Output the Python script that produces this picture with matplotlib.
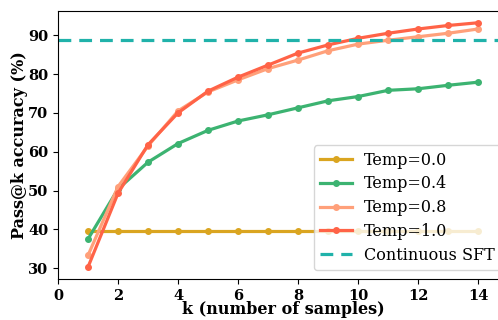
import matplotlib
matplotlib.use("Agg")
from matplotlib import pyplot as plt

plt.rcParams['font.family'] = 'DejaVu Serif'

# значення
k = list(range(1, 15))
temp_00 = [39.7] * 14
temp_04 = [37.5, 50.4, 57.3, 62.1, 65.5, 67.9, 69.5, 71.3, 73.1, 74.2, 75.8, 76.2, 77.1, 77.9]
temp_08 = [33.3, 51.0, 61.5, 70.5, 75.4, 78.5, 81.4, 83.6, 86.0, 87.7, 88.7, 89.6, 90.5, 91.6]
temp_10 = [30.3, 49.3, 61.8, 70.0, 75.6, 79.2, 82.3, 85.4, 87.5, 89.2, 90.5, 91.6, 92.5, 93.2]
sft_level = 88.7

labels = ['Temp=0.0', 'Temp=0.4', 'Temp=0.8', 'Temp=1.0']
colors = ['#DAA520', '#3CB371', '#FFA07A', '#FF6347']
xticks = list(range(0, 15, 2))
yticks = list(range(30, 91, 10))

fig = plt.figure(figsize=(4.98, 3.2), dpi=100)
ax = fig.add_axes([0.1165, 0.128, 0.904, 0.8385])

for ys, lab, col in zip([temp_00, temp_04, temp_08, temp_10], labels, colors):
    ax.plot(k, ys, '-o', color=col, label=lab, linewidth=2.3, markersize=4)

ax.axhline(sft_level, color='#20B2AA', linestyle='--', linewidth=2.3,
           dashes=(4, 2.5), label='Continuous SFT')

ax.set_xlim(0, 15)
ax.set_ylim(27.2, 96.3)
ax.set_xticks(xticks)
ax.set_yticks(yticks)
for t in ax.get_xticklabels() + ax.get_yticklabels():
    t.set_fontweight('bold')
    t.set_fontsize(10.5)

ax.set_xlabel('k (number of samples)', fontsize=11.5, fontweight='bold', labelpad=-1)
ax.set_ylabel('Pass@k accuracy (%)', fontsize=11.5, fontweight='bold', labelpad=0)

# легенда частково виходить за правий край, як на оригіналі
ax.legend(loc='lower right', fontsize=11.5, framealpha=0.8, handlelength=2.0,
          borderpad=0.4, labelspacing=0.42, handletextpad=0.75, borderaxespad=0,
          bbox_to_anchor=(0.984, 0.034))

fig.savefig('out.png', dpi=100)
